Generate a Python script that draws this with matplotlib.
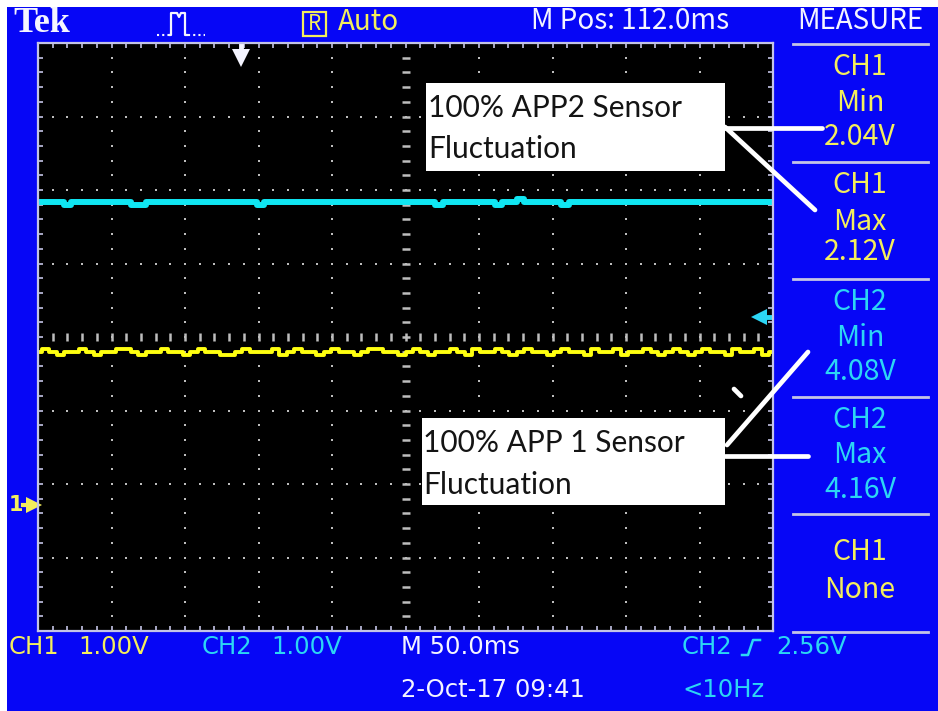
import matplotlib.pyplot as plt
import matplotlib.transforms as mtransforms
from matplotlib.patches import Rectangle
import numpy as np

# Screen settings
volts_per_div = 1.0
ms_per_div = 50.0
m_pos_ms = 112.0
ground_offset_div = 1.714        # both channel grounds sit this far above the bottom edge
trigger_level_v = 2.56

# CH1 (yellow) and CH2 (cyan) samples, in volts
ch1_volts = [
    2.08, 2.12, 2.08, 2.04, 2.08, 2.08, 2.12, 2.08, 2.04, 2.08,
    2.08, 2.12, 2.12, 2.08, 2.04, 2.08, 2.08, 2.12, 2.08, 2.08,
    2.04, 2.08, 2.12, 2.08, 2.08, 2.04, 2.04, 2.08, 2.12, 2.08,
    2.08, 2.08, 2.12, 2.04, 2.08, 2.12, 2.08, 2.08, 2.04, 2.08,
    2.12, 2.08, 2.08, 2.04, 2.08, 2.12, 2.12, 2.08, 2.08, 2.04,
    2.08, 2.12, 2.08, 2.04, 2.08, 2.08, 2.12, 2.08, 2.04, 2.12,
    2.08, 2.08, 2.12, 2.08, 2.04, 2.08, 2.12, 2.08, 2.08, 2.04,
    2.08, 2.12, 2.08, 2.08, 2.04, 2.12, 2.08, 2.08, 2.12, 2.04,
    2.08, 2.08, 2.12, 2.08, 2.04, 2.08, 2.12, 2.08, 2.04, 2.08,
    2.12, 2.08, 2.08, 2.04, 2.12, 2.08, 2.08, 2.12, 2.04, 2.08,
]
ch2_volts = [
    4.12, 4.12, 4.12, 4.12, 4.08, 4.12, 4.12, 4.12, 4.12, 4.12,
    4.12, 4.12, 4.12, 4.08, 4.08, 4.12, 4.12, 4.12, 4.12, 4.12,
    4.12, 4.12, 4.12, 4.12, 4.12, 4.12, 4.12, 4.12, 4.12, 4.12,
    4.08, 4.12, 4.12, 4.12, 4.12, 4.12, 4.12, 4.12, 4.12, 4.12,
    4.12, 4.12, 4.12, 4.12, 4.12, 4.12, 4.12, 4.12, 4.12, 4.12,
    4.12, 4.12, 4.12, 4.12, 4.08, 4.12, 4.12, 4.12, 4.12, 4.12,
    4.12, 4.12, 4.08, 4.12, 4.12, 4.16, 4.12, 4.12, 4.12, 4.12,
    4.12, 4.08, 4.12, 4.12, 4.12, 4.12, 4.12, 4.12, 4.12, 4.12,
    4.12, 4.12, 4.12, 4.12, 4.12, 4.12, 4.12, 4.12, 4.12, 4.12,
    4.12, 4.12, 4.12, 4.12, 4.12, 4.12, 4.12, 4.12, 4.12, 4.12,
]

measure_labels = [("CH1", "Min", "2.04V"), ("CH1", "Max", "2.12V"),
                  ("CH2", "Min", "4.08V"), ("CH2", "Max", "4.16V"),
                  ("CH1", "None", "")]

BLUE = "#0606F6"
YELLOW = "#F4EE5C"
TRACE_YELLOW = "#FFFF10"
CYAN = "#2CD6F4"
TRACE_CYAN = "#10E6F2"
WHITE = "#F4F4FF"
LAVENDER = "#C4C4E6"
DOT = "#BDBDBD"
NARROW = ["Noto Sans CJK JP", "DejaVu Sans"]

fig = plt.figure(figsize=(9.38, 7.11), dpi=100)
fig.patch.set_facecolor("white")

# background layer in pixel coordinates
bg = fig.add_axes([0, 0, 1, 1], zorder=0)
bg.set_xlim(0, 938)
bg.set_ylim(711, 0)
bg.axis("off")
bg.add_patch(Rectangle((7, 7), 931, 704, color=BLUE, lw=0))

# graticule
ax = fig.add_axes([38 / 938, (711 - 631) / 711, 735 / 938, 588 / 711], zorder=1)
ax.set_facecolor("black")
t_left = m_pos_ms - 5 * ms_per_div
t_right = m_pos_ms + 5 * ms_per_div
v_bottom = -ground_offset_div * volts_per_div
v_top = v_bottom + 8 * volts_per_div
ax.set_xlim(t_left, t_right)
ax.set_ylim(v_bottom, v_top)

x_major = t_left + ms_per_div * np.arange(11)
y_major = v_bottom + volts_per_div * np.arange(9)
x_minor = t_left + ms_per_div / 5 * np.arange(51)
y_minor = v_bottom + volts_per_div / 5 * np.arange(41)
ax.set_xticks(x_major)
ax.set_yticks(y_major)
ax.set_xticks(x_minor, minor=True)
ax.set_yticks(y_minor, minor=True)
ax.tick_params(which="both", direction="in", length=3.8, width=1.2, color=LAVENDER,
               top=True, right=True, labelbottom=False, labelleft=False)
for s in ax.spines.values():
    s.set_color(LAVENDER)
    s.set_linewidth(1.6)

x_mid = x_major[5]
y_mid = y_major[4]
# dotted division lines
for xv in x_major[1:-1]:
    if xv == x_mid:
        continue
    ax.plot(np.full(len(y_minor) - 2, xv), y_minor[1:-1], ls="none", marker="s",
            ms=1.8, color=DOT, mew=0)
for yv in y_major[1:-1]:
    if yv == y_mid:
        continue
    ax.plot(x_minor[1:-1], np.full(len(x_minor) - 2, yv), ls="none", marker="s",
            ms=1.8, color=DOT, mew=0)
# centre lines with small tick dashes
ax.plot(np.full(len(y_minor) - 2, x_mid), y_minor[1:-1], ls="none", marker="_",
        ms=6, mew=1.8, color=DOT)
ax.plot(x_minor[1:-1], np.full(len(x_minor) - 2, y_mid), ls="none", marker="|",
        ms=5.5, mew=1.8, color=DOT)

# traces
sample_ms = np.linspace(t_left, t_right, len(ch1_volts))
ax.plot(sample_ms, ch2_volts, color=TRACE_CYAN, lw=4.3, drawstyle="steps-mid",
        solid_capstyle="butt")
ax.plot(sample_ms, ch1_volts, color=TRACE_YELLOW, lw=2.8, drawstyle="steps-mid",
        solid_capstyle="butt")

# trigger position marker (t = 0)
xa = mtransforms.blended_transform_factory(ax.transData, ax.transAxes)
ax.plot([0, 0], [1.0, 0.978], color=WHITE, lw=3.5, transform=xa, clip_on=False,
        solid_capstyle="butt")
ax.plot([0], [0.974], marker="v", ms=13, color=WHITE, mew=0, transform=xa)
# trigger level marker on the right
ya = mtransforms.blended_transform_factory(ax.transAxes, ax.transData)
ax.plot([0.981], [trigger_level_v], marker="<", ms=12, color=CYAN, mew=0, transform=ya)
ax.plot([0.981, 1.0], [trigger_level_v] * 2, color=CYAN, lw=3.5, transform=ya)
# channel ground marker on the left
ax.text(-0.03, 0, "1", color=YELLOW, fontsize=15, fontweight="bold", ha="center",
        va="center", transform=ya, family="DejaVu Sans")
ax.plot([-0.006], [0], marker=">", ms=11, color=YELLOW, mew=0, transform=ya, clip_on=False)
ax.plot([-0.02, -0.006], [0, 0], color=YELLOW, lw=3, transform=ya, clip_on=False)

# top layer: status text, measurement panel and call-outs
top = fig.add_axes([0, 0, 1, 1], zorder=2)
top.set_xlim(0, 938)
top.set_ylim(711, 0)
top.axis("off")

top.text(13, 23, "Tek", color=WHITE, fontsize=26, fontweight="bold",
         family="Liberation Serif", va="center", ha="left")
top.plot([157, 170], [35, 35], color=WHITE, lw=1.5, ls=(0, (1, 1.5)))
top.plot([170, 171, 171, 177, 179, 181, 185, 185, 187],
         [35, 35, 13, 13, 17, 13, 13, 35, 35], color=WHITE, lw=1.6)
top.plot([188, 205], [35, 35], color=WHITE, lw=1.5, ls=(0, (1, 1.5)))
top.add_patch(Rectangle((303, 12), 23, 24, fill=False, ec=YELLOW, lw=1.6))
top.text(314.5, 23.5, "R", color=YELLOW, fontsize=15, family=NARROW, ha="center", va="center")
top.text(338, 22, "Auto", color=YELLOW, fontsize=20, family=NARROW, ha="left", va="center")
top.text(630, 21, "M Pos: 112.0ms", color=WHITE, fontsize=20, family=NARROW,
         ha="center", va="center")
top.text(860, 21, "MEASURE", color=WHITE, fontsize=20, family=NARROW,
         ha="center", va="center")

sep_y = [44, 162, 279, 397, 514, 632]
for yv in sep_y:
    top.plot([793, 928], [yv, yv], color=LAVENDER, lw=2)

row_y = [(67, 103, 137), (185, 222, 252), (302, 338, 372), (420, 455, 490), (552, 590, None)]
for (ch, kind, val), ys in zip(measure_labels, row_y):
    c = YELLOW if ch == "CH1" else CYAN
    top.text(860, ys[0], ch, color=c, fontsize=20.5, family=NARROW, ha="center", va="center")
    top.text(860, ys[1], kind, color=c, fontsize=20.5, family=NARROW, ha="center", va="center")
    if val:
        top.text(860, ys[2], val, color=c, fontsize=20.5, family=NARROW, ha="center", va="center")

# bottom status line
bot = dict(fontsize=17.5, family="DejaVu Sans", va="center", ha="left")
top.text(9, 647, "CH1", color=YELLOW, **bot)
top.text(78, 647, "1.00V", color=YELLOW, **bot)
top.text(202, 647, "CH2", color=CYAN, **bot)
top.text(271, 647, "1.00V", color=CYAN, **bot)
top.text(401, 647, "M 50.0ms", color=WHITE, **bot)
top.text(682, 647, "CH2", color=CYAN, **bot)
top.plot([742, 748, 753, 760], [655, 655, 640, 640], color=CYAN, lw=1.8)
top.text(776, 647, "2.56V", color=CYAN, **bot)
top.text(401, 690, "2-Oct-17 09:41", color=WHITE, **bot)
top.text(682, 690, "<10Hz", color=CYAN, **bot)

# call-out boxes
note = dict(fontsize=21.5, family="Lato", color="#141414", ha="left", va="baseline")
top.add_patch(Rectangle((426, 83), 299, 88, color="white", lw=0))
top.text(428, 117, "100% APP2 Sensor", **note)
top.text(428, 158, "Fluctuation", **note)
top.add_patch(Rectangle((422, 418), 303, 87, color="white", lw=0))
top.text(423, 452, "100% APP 1 Sensor", **note)
top.text(423, 494, "Fluctuation", **note)

line = dict(color="white", lw=3.4, solid_capstyle="round")
top.plot([725, 822], [128, 128], **line)
top.plot([725, 815], [127, 210], **line)
top.plot([727, 808], [445, 352], **line)
top.plot([725, 808], [456, 456], **line)
top.plot([734, 741], [389, 396], **line)

fig.savefig("out.png", dpi=100)
